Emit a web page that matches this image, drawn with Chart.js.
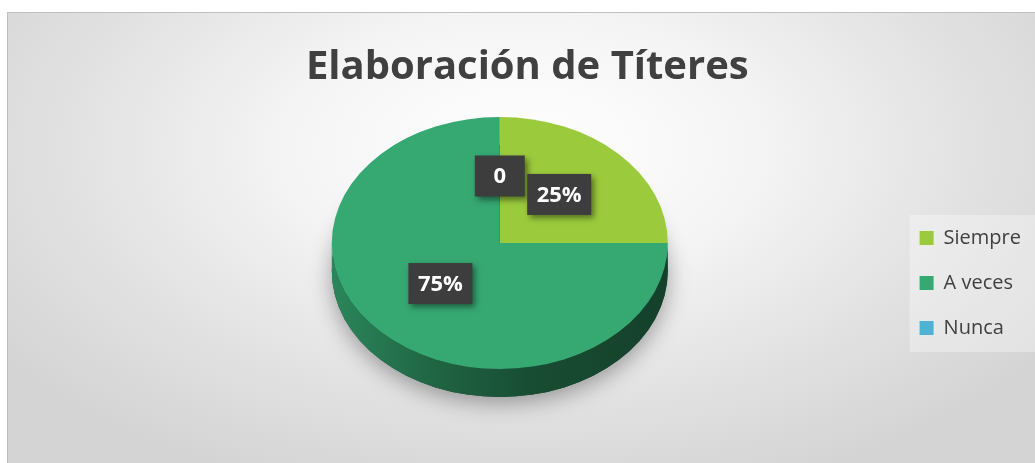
<!DOCTYPE html>
<html><head><meta charset="utf-8">
<script src="https://cdn.jsdelivr.net/npm/chart.js@4.4.0/dist/chart.umd.min.js"></script>
<style>
html,body{margin:0;padding:0;background:#fff;overflow:hidden;width:1035px;height:463px;}
#frame{position:absolute;left:7px;top:12px;width:1028px;height:451px;border-top:1px solid #bfbfbf;border-left:1px solid #bfbfbf;overflow:hidden;
background:radial-gradient(ellipse 62% 80% at 50% 30%, #ffffff 0%, #f5f5f5 35%, #e2e2e2 70%, #d4d4d4 100%);}
#c{position:absolute;left:0;top:0;}
</style></head><body>
<div id="frame"><canvas id="c" width="1060" height="450"></canvas></div>
<script>
const chartTitle = 'Elaboración de Títeres';
const categories = ['Siempre', 'A veces', 'Nunca'];
const values = [25, 75, 0];
const valueLabels = ['25%', '75%', '0'];
const sliceColors = ['#9BCB3C', '#36A872', '#4DB3D3'];

const K = 0.75;     // vertical squash of the tilted pie
const DX = -27.5;   // horizontal shift of pie relative to chart area centre
const T = 28;       // side thickness (px)

function shade(hex, f) {
  const n = parseInt(hex.slice(1), 16);
  const r = Math.round(((n >> 16) & 255) * f), g = Math.round(((n >> 8) & 255) * f), b = Math.round((n & 255) * f);
  return `rgb(${r},${g},${b})`;
}

const pie3d = {
  id: 'pie3d',
  beforeDatasetsDraw(chart) {
    const ctx = chart.ctx;
    const arcs = chart.getDatasetMeta(0).data;
    if (!arcs.length) return;
    const a0 = arcs[0];
    const cx = a0.x + DX, cy = a0.y, rx = a0.outerRadius, ry = rx * K;
    ctx.save();
    ctx.shadowColor = 'rgba(0,0,0,0.35)';
    ctx.shadowBlur = 22;
    ctx.shadowOffsetY = 6;
    ctx.beginPath();
    ctx.ellipse(cx, cy + T, rx, ry, 0, 0, Math.PI * 2);
    ctx.fillStyle = shade(arcs[1].options.backgroundColor, 0.4);
    ctx.fill();
    ctx.restore();
    arcs.forEach((arc) => {
      const s = arc.startAngle, e = arc.endAngle;
      if (e - s <= 0) return;
      const col = arc.options.backgroundColor;
      for (const off of [-2 * Math.PI, 0, 2 * Math.PI]) {
        const a1 = Math.max(s, off), a2 = Math.min(e, Math.PI + off);
        if (a2 > a1) {
          const g = ctx.createLinearGradient(cx - rx, 0, cx + rx, 0);
          g.addColorStop(0, shade(col, 0.80));
          g.addColorStop(0.3, shade(col, 0.60));
          g.addColorStop(0.6, shade(col, 0.45));
          g.addColorStop(1, shade(col, 0.38));
          ctx.beginPath();
          ctx.ellipse(cx, cy, rx, ry, 0, a1 - off, a2 - off, false);
          ctx.ellipse(cx, cy + T, rx, ry, 0, a2 - off, a1 - off, true);
          ctx.closePath();
          ctx.fillStyle = g;
          ctx.fill();
        }
      }
    });
    ctx.save();
    ctx.translate(a0.x + DX, a0.y);
    ctx.scale(1, K);
    ctx.translate(-a0.x, -a0.y);
  },
  afterDatasetsDraw(chart) {
    const ctx = chart.ctx;
    const arcs = chart.getDatasetMeta(0).data;
    if (!arcs.length) return;
    ctx.restore();
    const a0 = arcs[0];
    ctx.save();
    ctx.font = 'bold 22px "Open Sans"';
    ctx.textAlign = 'center';
    ctx.textBaseline = 'middle';
    const order = [2, 1, 0];
    order.forEach((i) => {
      const p = arcs[i].tooltipPosition(true);
      const X = p.x + DX, Y = a0.y + (p.y - a0.y) * K - 4;
      const txt = valueLabels[i];
      const w = Math.max(ctx.measureText(txt).width + 19, 50), h = 41;
      ctx.save();
      ctx.shadowColor = 'rgba(0,0,0,0.45)';
      ctx.shadowBlur = 6;
      ctx.shadowOffsetX = 3;
      ctx.shadowOffsetY = 3;
      ctx.fillStyle = '#3d3d3d';
      ctx.fillRect(X - w / 2, Y - h / 2, w, h);
      ctx.restore();
      ctx.fillStyle = '#ffffff';
      ctx.fillText(txt, X, Y + 1);
    });
    ctx.restore();
  },
  beforeDraw(chart) {
    const lg = chart.legend;
    if (!lg || !lg.legendHitBoxes || !lg.legendHitBoxes.length) return;
    const hb = lg.legendHitBoxes;
    const ctx = chart.ctx;
    const top = hb[0].top - 13, bottom = hb[hb.length - 1].top + hb[hb.length - 1].height + 14;
    ctx.save();
    ctx.fillStyle = 'rgba(255,255,255,0.32)';
    ctx.fillRect(hb[0].left - 10, top, chart.width, bottom - top);
    ctx.restore();
  }
};

new Chart(document.getElementById('c'), {
  type: 'pie',
  data: {
    labels: categories,
    datasets: [{
      data: values,
      backgroundColor: sliceColors,
      borderColor: sliceColors,
      borderWidth: 0,
      radius: 168,
      clip: false
    }]
  },
  options: {
    responsive: false,
    animation: false,
    events: [],
    layout: { padding: { left: 152, right: 37, top: 0, bottom: 100 } },
    plugins: {
      tooltip: { enabled: false },
      title: {
        display: true, text: chartTitle, fullSize: false, color: '#404040',
        font: { family: 'Open Sans', size: 40, weight: 'bold', lineHeight: 1.2 },
        padding: { top: 31, bottom: 31 }
      },
      legend: {
        position: 'right', align: 'end', fullSize: false,
        labels: {
          font: { family: 'Open Sans', size: 20 }, color: '#404040',
          boxWidth: 14, boxHeight: 14, padding: 25
        }
      }
    }
  },
  plugins: [pie3d]
});
</script>
</body></html>
